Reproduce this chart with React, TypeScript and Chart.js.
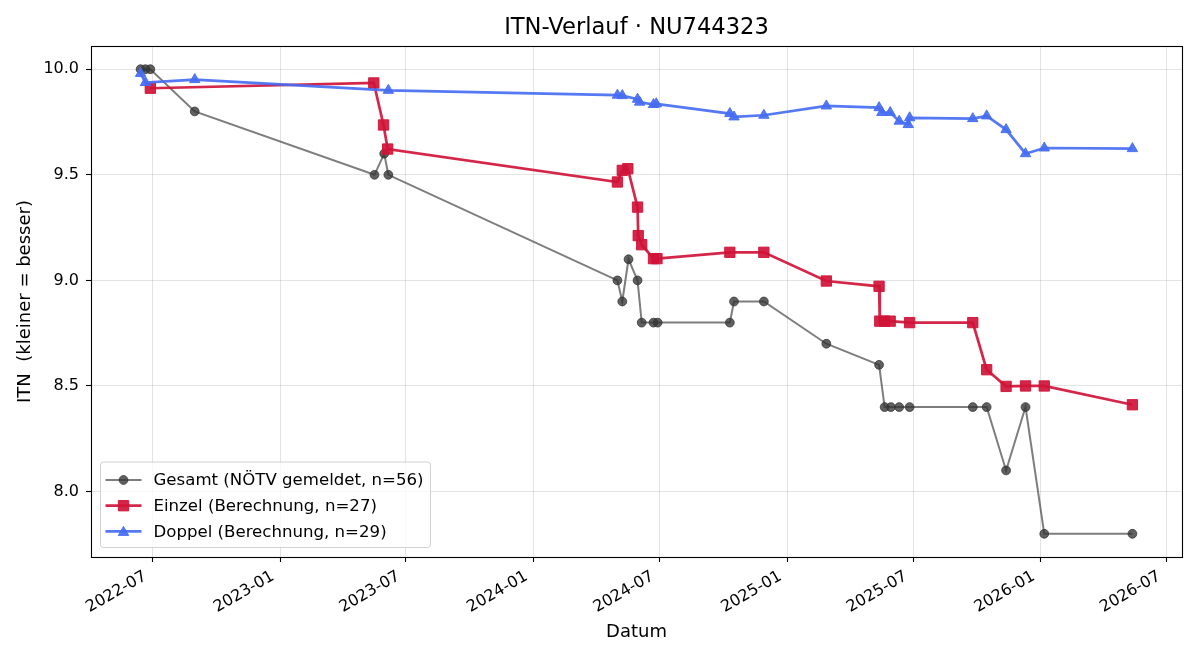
import React, { useEffect, useRef } from "react";
import { Chart, registerables } from "chart.js";

Chart.register(...registerables);

const FONT = "'DejaVu Sans', sans-serif";

// Gesamt-ITN laut NÖTV
const gesamtDates = [
  "2022-06-14", "2022-06-21", "2022-06-28", "2022-08-31",
  "2023-05-17", "2023-05-31", "2023-06-06",
  "2024-05-01", "2024-05-08", "2024-05-17", "2024-05-30", "2024-06-05",
  "2024-06-22", "2024-06-28", "2024-10-10", "2024-10-16", "2024-11-28",
  "2025-02-26", "2025-05-13", "2025-05-21", "2025-05-30", "2025-06-11",
  "2025-06-26", "2025-09-25", "2025-10-15", "2025-11-12", "2025-12-10",
  "2026-01-06", "2026-05-13",
];
const gesamtValues = [
  10.0, 10.0, 10.0, 9.8,
  9.5, 9.6, 9.5,
  9.0, 8.9, 9.1, 9.0, 8.8,
  8.8, 8.8, 8.8, 8.9, 8.9,
  8.7, 8.6, 8.4, 8.4, 8.4,
  8.4, 8.4, 8.4, 8.1, 8.4,
  7.8, 7.8,
];

// Einzel-ITN (eigene Berechnung)
const einzelDates = [
  "2022-06-28",
  "2023-05-16", "2023-05-30", "2023-06-05",
  "2024-05-01", "2024-05-08", "2024-05-16", "2024-05-30", "2024-05-31",
  "2024-06-05", "2024-06-22", "2024-06-27", "2024-10-10", "2024-11-28",
  "2025-02-26", "2025-05-13", "2025-05-14", "2025-05-21", "2025-05-29",
  "2025-06-26", "2025-09-25", "2025-10-15", "2025-11-12", "2025-12-10",
  "2026-01-06", "2026-05-13",
];
const einzelValues = [
  9.91,
  9.935, 9.736, 9.622,
  9.466, 9.521, 9.529, 9.347, 9.212,
  9.169, 9.103, 9.103, 9.133, 9.133,
  8.997, 8.972, 8.807, 8.807, 8.807,
  8.80, 8.80, 8.577, 8.498, 8.50,
  8.50, 8.411,
];

// Doppel-ITN (eigene Berechnung)
const doppelDates = [
  "2022-06-14", "2022-06-21", "2022-08-31", "2023-06-06",
  "2024-05-01", "2024-05-08", "2024-05-30", "2024-06-02", "2024-06-22",
  "2024-06-26", "2024-10-10", "2024-10-16", "2024-11-28", "2025-02-26",
  "2025-05-13", "2025-05-17", "2025-05-29", "2025-06-11", "2025-06-24",
  "2025-06-26", "2025-09-25", "2025-10-15", "2025-11-12", "2025-12-10",
  "2026-01-06", "2026-05-13",
];
const doppelValues = [
  9.98, 9.937, 9.951, 9.90,
  9.877, 9.875, 9.858, 9.844, 9.833,
  9.836, 9.79, 9.774, 9.782, 9.826,
  9.818, 9.795, 9.795, 9.754, 9.738,
  9.77, 9.766, 9.779, 9.714, 9.60,
  9.627, 9.624,
];

const seriesLabels = [
  "Gesamt (NÖTV gemeldet, n=56)",
  "Einzel (Berechnung, n=27)",
  "Doppel (Berechnung, n=29)",
];

const xTickLabels = [
  "2022-07", "2023-01", "2023-07", "2024-01", "2024-07",
  "2025-01", "2025-07", "2026-01", "2026-07",
];
const yTickValues = [8.0, 8.5, 9.0, 9.5, 10.0];

const toTs = (d: string) => Date.parse(d + "T00:00:00Z");
const xTickValues = xTickLabels.map((m) => toTs(m + "-01"));

const allX = [...gesamtDates, ...einzelDates, ...doppelDates].map(toTs);
const allY = [...gesamtValues, ...einzelValues, ...doppelValues];
const xLo = Math.min(...allX);
const xHi = Math.max(...allX);
const yLo = Math.min(...allY);
const yHi = Math.max(...allY);
const X_MIN = xLo - 0.05 * (xHi - xLo);
const X_MAX = xHi + 0.05 * (xHi - xLo);
const Y_MIN = yLo - 0.05 * (yHi - yLo);
const Y_MAX = yHi + 0.05 * (yHi - yLo);

const toPoints = (dates: string[], values: number[]) =>
  dates.map((d, i) => ({ x: toTs(d), y: values[i] }));

const GRAY_LINE = "rgba(64,64,64,0.68)";
const GRAY_MARK = "rgba(52,52,52,0.78)";
const RED = "rgba(208,20,56,0.92)";
const BLUE = "rgba(70,108,242,0.92)";

function drawMarker(
  ctx: CanvasRenderingContext2D,
  style: string,
  x: number,
  y: number,
  r: number,
  fill: string,
  stroke: string,
  lw: number
) {
  ctx.beginPath();
  if (style === "rect") {
    const s = r * Math.SQRT1_2;
    ctx.rect(x - s, y - s, 2 * s, 2 * s);
  } else if (style === "triangle") {
    let a = 0;
    ctx.moveTo(x + Math.sin(a) * r, y - Math.cos(a) * r);
    a += (2 * Math.PI) / 3;
    ctx.lineTo(x + Math.sin(a) * r, y - Math.cos(a) * r);
    a += (2 * Math.PI) / 3;
    ctx.lineTo(x + Math.sin(a) * r, y - Math.cos(a) * r);
    ctx.closePath();
  } else {
    ctx.arc(x, y, r, 0, Math.PI * 2);
  }
  ctx.fillStyle = fill;
  ctx.fill();
  ctx.lineWidth = lw;
  ctx.strokeStyle = stroke;
  ctx.stroke();
}

// Axes frame, title above the plot area and the legend box in the lower left
const framePlugin = {
  id: "frameAndLegend",
  afterDatasetsDraw(chart: any) {
    const { ctx, chartArea: a } = chart;
    ctx.save();
    ctx.strokeStyle = "#000";
    ctx.lineWidth = 1.1;
    ctx.strokeRect(Math.round(a.left) + 0.5, Math.round(a.top) + 0.5,
      Math.round(a.right - a.left), Math.round(a.bottom - a.top));
    ctx.restore();
  },
  afterDraw(chart: any) {
    const { ctx, chartArea: a } = chart;
    ctx.save();
    ctx.fillStyle = "#000";
    ctx.font = `22.6px ${FONT}`;
    ctx.textAlign = "center";
    ctx.textBaseline = "middle";
    ctx.fillText("ITN-Verlauf · NU744323", (a.left + a.right) / 2, 28.5);

    // legend
    const bx = a.left + 9.5;
    const by = 462;
    const bw = 330;
    const bh = 85.5;
    ctx.beginPath();
    ctx.roundRect(bx, by, bw, bh, 3);
    ctx.fillStyle = "rgba(255,255,255,0.8)";
    ctx.fill();
    ctx.strokeStyle = "rgba(204,204,204,0.9)";
    ctx.lineWidth = 1;
    ctx.stroke();

    ctx.font = `16.6px ${FONT}`;
    ctx.textAlign = "left";
    ctx.textBaseline = "middle";
    chart.data.datasets.forEach((ds: any, i: number) => {
      const y = 480 + i * 25.7;
      ctx.beginPath();
      ctx.moveTo(bx + 5, y);
      ctx.lineTo(bx + 41, y);
      ctx.strokeStyle = ds.borderColor;
      ctx.lineWidth = ds.borderWidth;
      ctx.stroke();
      drawMarker(ctx, ds.pointStyle, bx + 23, y + (ds.pointStyle === "triangle" ? 1 : 0),
        ds.pointRadius, ds.pointBackgroundColor, ds.pointBorderColor, 1);
      ctx.fillStyle = "#000";
      ctx.fillText(ds.label, bx + 53, y + 1);
    });
    ctx.restore();
  },
};

export default function App() {
  const canvasRef = useRef<HTMLCanvasElement | null>(null);

  useEffect(() => {
    document.body.style.margin = "0";
    const canvas = canvasRef.current;
    if (!canvas) return;

    const tickFont = { family: FONT, size: 16 };
    const labelFont = { family: FONT, size: 18 };
    const gridCfg = {
      color: "rgba(176,176,176,0.35)",
      lineWidth: 1,
      tickColor: "#000",
      tickLength: 5,
      tickWidth: 1.1,
    };

    const chart = new Chart(canvas, {
      type: "line",
      data: {
        datasets: [
          {
            label: seriesLabels[0],
            data: toPoints(gesamtDates, gesamtValues),
            borderColor: GRAY_LINE,
            borderWidth: 2,
            pointStyle: "circle",
            pointRadius: 4.4,
            pointBackgroundColor: GRAY_MARK,
            pointBorderColor: GRAY_MARK,
            pointBorderWidth: 1,
            tension: 0,
            order: 3,
          },
          {
            label: seriesLabels[1],
            data: toPoints(einzelDates, einzelValues),
            borderColor: RED,
            borderWidth: 2.7,
            pointStyle: "rect",
            pointRadius: 7.3,
            pointBackgroundColor: RED,
            pointBorderColor: RED,
            pointBorderWidth: 1,
            tension: 0,
            order: 2,
          },
          {
            label: seriesLabels[2],
            data: toPoints(doppelDates, doppelValues),
            borderColor: BLUE,
            borderWidth: 2.7,
            pointStyle: "triangle",
            pointRadius: 6,
            pointBackgroundColor: BLUE,
            pointBorderColor: BLUE,
            pointBorderWidth: 1,
            tension: 0,
            order: 1,
          },
        ] as any,
      },
      options: {
        animation: false,
        responsive: false,
        devicePixelRatio: 1,
        layout: { padding: { top: 46, right: 18, bottom: 0, left: 0 } },
        plugins: {
          legend: { display: false },
          title: { display: false },
          tooltip: { enabled: false },
        },
        scales: {
          x: {
            type: "linear",
            min: X_MIN,
            max: X_MAX,
            afterBuildTicks: (s: any) => {
              s.ticks = xTickValues.map((v) => ({ value: v }));
            },
            afterFit: (s: any) => {
              s.height = 103;
            },
            ticks: {
              autoSkip: false,
              minRotation: 30,
              maxRotation: 30,
              padding: 5,
              labelOffset: -7,
              color: "#000",
              font: tickFont,
              callback: (_v: any, i: number) => xTickLabels[i],
            },
            grid: gridCfg,
            border: { display: false },
            title: {
              display: true,
              text: "Datum",
              color: "#000",
              font: labelFont,
              padding: { top: 0, bottom: 17 },
            },
          },
          y: {
            type: "linear",
            min: Y_MIN,
            max: Y_MAX,
            afterBuildTicks: (s: any) => {
              s.ticks = yTickValues.map((v) => ({ value: v }));
            },
            afterFit: (s: any) => {
              s.width = 91;
            },
            ticks: {
              padding: 7,
              color: "#000",
              font: tickFont,
              callback: (v: any) => Number(v).toFixed(1),
            },
            grid: gridCfg,
            border: { display: false },
            title: {
              display: true,
              text: "ITN  (kleiner = besser)",
              color: "#000",
              font: labelFont,
              padding: { top: 15, bottom: 0 },
            },
          },
        },
      } as any,
      plugins: [framePlugin],
    });

    return () => chart.destroy();
  }, []);

  return (
    <div style={{ position: "absolute", left: 0, top: 0, width: 1200, height: 660 }}>
      <canvas ref={canvasRef} width={1200} height={660} />
    </div>
  );
}
